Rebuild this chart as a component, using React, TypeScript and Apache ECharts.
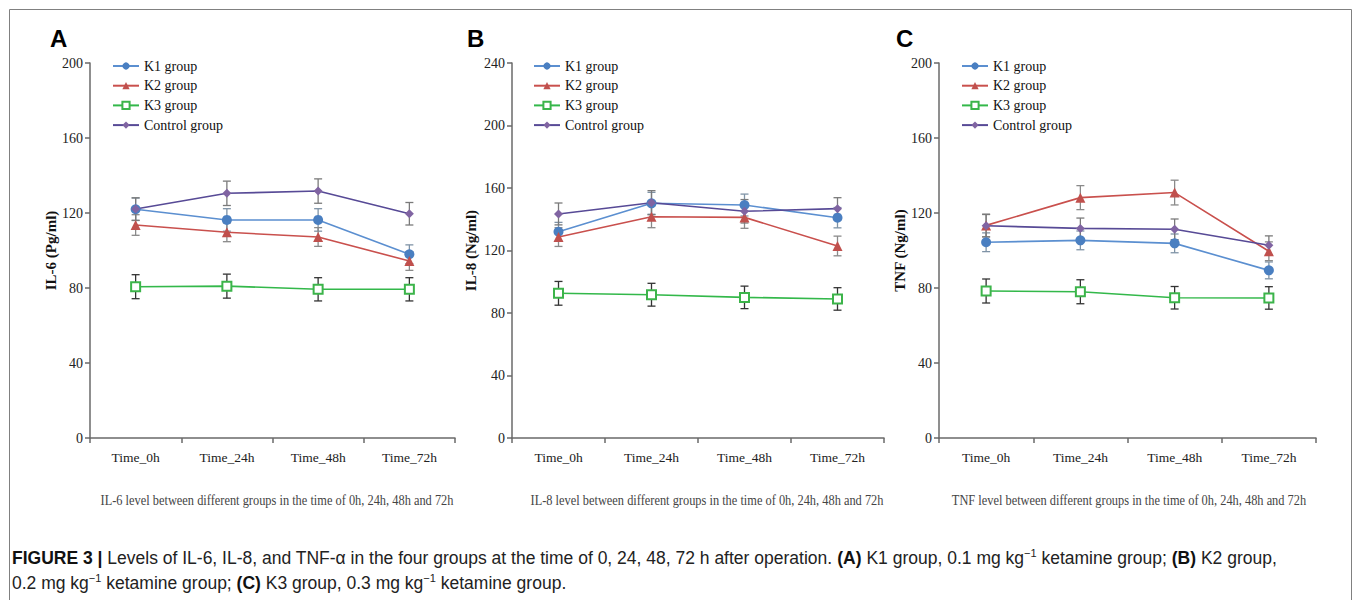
import React, { useEffect, useRef } from 'react';
import * as echarts from 'echarts';

const categories = ['Time_0h', 'Time_24h', 'Time_48h', 'Time_72h'];
const groupNames = ['K1 group', 'K2 group', 'K3 group', 'Control group'];

// Panel A: IL-6 (Pg/ml)
const il6K1 = [122, 116.3, 116.3, 98];
const il6K2 = [113.6, 109.7, 107.2, 94.4];
const il6K3 = [80.7, 81, 79.3, 79.3];
const il6Ctrl = [122.1, 130.5, 131.7, 119.6];
const il6K1Err = [6, 6, 6, 5];
const il6K2Err = [5.5, 5, 5, 5];
const il6K3Err = [6.4, 6.4, 6.2, 6.2];
const il6CtrlErr = [6, 6.5, 6.5, 6];

// Panel B: IL-8 (Ng/ml)
const il8K1 = [132, 150.2, 149.1, 141];
const il8K2 = [128.6, 141.6, 141.2, 122.9];
const il8K3 = [92.6, 91.7, 90, 89];
const il8Ctrl = [143.4, 150.6, 145.1, 146.8];
const il8K1Err = [6, 7, 7, 6.5];
const il8K2Err = [6, 7, 7, 6.3];
const il8K3Err = [7.6, 7.3, 7.2, 7.2];
const il8CtrlErr = [7, 7.7, 7.5, 7];

// Panel C: TNF (Ng/ml)
const tnfK1 = [104.4, 105.4, 103.8, 89.4];
const tnfK2 = [113.4, 128.2, 130.9, 99.6];
const tnfK3 = [78.4, 78, 74.8, 74.7];
const tnfCtrl = [113.2, 111.8, 111.3, 102.8];
const tnfK1Err = [5, 5, 5, 4.5];
const tnfK2Err = [6, 6.4, 6.6, 5];
const tnfK3Err = [6.4, 6.4, 6, 6];
const tnfCtrlErr = [6, 5.5, 5.5, 5];

const yMaxA = 200;
const yMaxB = 240;
const yMaxC = 200;
const yInterval = 40;

const panelLetters = ['A', 'B', 'C'];
const yNames = ['IL-6 (Pg/ml)', 'IL-8 (Ng/ml)', 'TNF (Ng/ml)'];
const subtitles = [
  'IL-6 level between different groups in the time of 0h, 24h, 48h and 72h',
  'IL-8 level between different groups in the time of 0h, 24h, 48h and 72h',
  'TNF level between different groups in the time of 0h, 24h, 48h and 72h',
];

const SERIF = '"Liberation Serif", "Times New Roman", serif';
const SANS = '"Liberation Sans", Arial, sans-serif';

const lineColors = ['#5b8fd0', '#c9504d', '#33b84a', '#574a96'];
const markerColors = ['#4a7fc1', '#c0504d', '#3cb44a', '#8064a2'];
const errColors = ['#7f93a6', '#8a8a8a', '#333333', '#7a7a7a'];
const symbols = ['circle', 'triangle', 'emptyRect', 'diamond'];
const symbolSizes = [10, 10, 9, 9];

const App: React.FC = () => {
  const ref = useRef<HTMLDivElement>(null);

  useEffect(() => {
    if (!ref.current) return;
    const chart = echarts.init(ref.current, undefined, { renderer: 'svg' });

    const panels = [
      { max: yMaxA, vals: [il6K1, il6K2, il6K3, il6Ctrl], errs: [il6K1Err, il6K2Err, il6K3Err, il6CtrlErr] },
      { max: yMaxB, vals: [il8K1, il8K2, il8K3, il8Ctrl], errs: [il8K1Err, il8K2Err, il8K3Err, il8CtrlErr] },
      { max: yMaxC, vals: [tnfK1, tnfK2, tnfK3, tnfCtrl], errs: [tnfK1Err, tnfK2Err, tnfK3Err, tnfCtrlErr] },
    ];

    const grids = [
      { left: 90, top: 63, width: 365, height: 375 },
      { left: 512, top: 63, width: 372, height: 375 },
      { left: 939, top: 63, width: 377, height: 375 },
    ];
    const nameGaps = [27, 34, 30];
    const legendLefts = [112, 533, 961];
    const letterX = [50, 467, 896];
    const subX = [277, 707, 1129];

    const axisLineStyle = { color: '#6a6a6a', width: 1.5 };

    const xAxes = grids.map((_, p) => ({
      type: 'category',
      gridIndex: p,
      data: categories,
      boundaryGap: true,
      axisLine: { show: true, lineStyle: axisLineStyle },
      axisTick: { show: true, alignWithLabel: false, length: 5, lineStyle: axisLineStyle },
      axisLabel: { fontFamily: SERIF, fontSize: 13.5, color: '#222', margin: 12 },
      splitLine: { show: false },
    }));

    const yAxes = panels.map((pn, p) => ({
      type: 'value',
      gridIndex: p,
      min: 0,
      max: pn.max,
      interval: yInterval,
      axisLine: { show: true, lineStyle: axisLineStyle },
      axisTick: { show: true, length: 5, lineStyle: axisLineStyle },
      axisLabel: { fontFamily: SERIF, fontSize: 14, color: '#222', margin: 7 },
      splitLine: { show: false },
      name: yNames[p],
      nameLocation: 'middle',
      nameGap: nameGaps[p],
      nameTextStyle: { fontFamily: SERIF, fontSize: 15, fontWeight: 'bold', color: '#111' },
    }));

    const series: any[] = [];
    panels.forEach((pn, p) => {
      pn.vals.forEach((vals, g) => {
        const errs = pn.errs[g];
        const ec = errColors[g];
        series.push({
          type: 'custom',
          name: groupNames[g] + ' SD',
          xAxisIndex: p,
          yAxisIndex: p,
          silent: true,
          z: 2,
          data: vals.map((v, i) => [i, v, errs[i]]),
          encode: { x: 0, y: 1 },
          renderItem: (params: any, api: any) => {
            const x = api.value(0);
            const v = api.value(1);
            const e = api.value(2);
            const top = api.coord([x, v + e]);
            const bot = api.coord([x, v - e]);
            const hw = 4;
            const st = { stroke: ec, lineWidth: 1.3 };
            return {
              type: 'group',
              children: [
                { type: 'line', shape: { x1: top[0], y1: top[1], x2: bot[0], y2: bot[1] }, style: st },
                { type: 'line', shape: { x1: top[0] - hw, y1: top[1], x2: top[0] + hw, y2: top[1] }, style: st },
                { type: 'line', shape: { x1: bot[0] - hw, y1: bot[1], x2: bot[0] + hw, y2: bot[1] }, style: st },
              ],
            };
          },
        });
        series.push({
          type: 'line',
          name: groupNames[g],
          xAxisIndex: p,
          yAxisIndex: p,
          data: vals,
          z: 3,
          symbol: symbols[g],
          symbolSize: symbolSizes[g],
          showSymbol: true,
          lineStyle: { color: lineColors[g], width: 1.6 },
          itemStyle: { color: markerColors[g], borderColor: markerColors[g], borderWidth: g === 2 ? 1.3 : 0 },
        });
      });
    });

    const legends = legendLefts.map((l) => ({
      orient: 'vertical',
      left: l,
      top: 59,
      padding: 0,
      itemWidth: 26,
      itemHeight: 9,
      itemGap: 5.7,
      data: groupNames,
      textStyle: { fontFamily: SERIF, fontSize: 14, color: '#111' },
      selectedMode: false,
    }));

    const graphic: any[] = [
      {
        type: 'rect',
        shape: { x: 9.5, y: 9.5, width: 1342, height: 640 },
        style: { fill: 'none', stroke: '#808080', lineWidth: 1 },
        silent: true,
      },
    ];
    panelLetters.forEach((L, p) => {
      graphic.push({
        type: 'text',
        x: letterX[p],
        y: 38,
        style: { text: L, font: `bold 24px ${SANS}`, fill: '#000', verticalAlign: 'middle', align: 'left' },
      });
      graphic.push({
        type: 'text',
        x: subX[p],
        y: 500,
        scaleX: 0.826,
        style: { text: subtitles[p], font: `15px ${SERIF}`, fill: '#444', align: 'center', verticalAlign: 'middle' },
      });
    });
    graphic.push({
      type: 'text',
      x: 12,
      y: 545,
      style: {
        text:
          '{b|FIGURE 3}{b| | }Levels of IL-6, IL-8, and TNF-α in the four groups at the time of 0, 24, 48, 72 h after operation. {b|(A)} K1 group, 0.1 mg kg{s|−1} ketamine group; {b|(B)} K2 group,\n0.2 mg kg{s|−1} ketamine group; {b|(C)} K3 group, 0.3 mg kg{s|−1} ketamine group.',
        fontFamily: SANS,
        fontSize: 17.5,
        lineHeight: 25,
        fill: '#222',
        align: 'left',
        verticalAlign: 'top',
        rich: {
          b: { fontFamily: SANS, fontSize: 17.5, fontWeight: 'bold', lineHeight: 25, fill: '#111' },
          s: { fontFamily: SANS, fontSize: 11, lineHeight: 25, verticalAlign: 'top', padding: [2, 0, 0, 0], fill: '#222' },
        },
      },
    });

    chart.setOption({
      animation: false,
      backgroundColor: '#ffffff',
      grid: grids,
      xAxis: xAxes,
      yAxis: yAxes,
      legend: legends,
      series,
      graphic,
    });

    return () => chart.dispose();
  }, []);

  return (
    <div
      ref={ref}
      style={{ position: 'absolute', left: 0, top: 0, width: 1355, height: 600, background: '#fff' }}
    />
  );
};

export default App;
